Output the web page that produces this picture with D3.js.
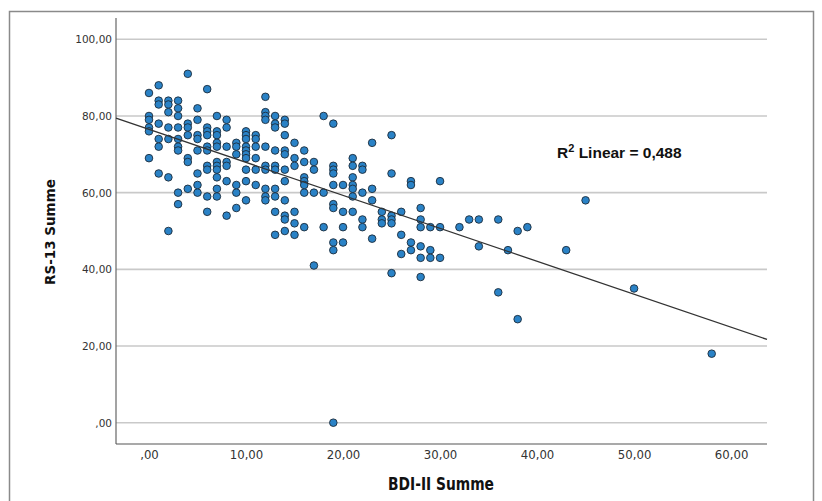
<!DOCTYPE html>
<html><head><meta charset="utf-8">
<script src="https://cdn.jsdelivr.net/npm/d3@7/dist/d3.min.js"></script>
<style>body{margin:0;background:#fff;}</style>
</head><body>
<svg id="chart" width="822" height="501"></svg>
<script>
// ---- data ----
const bdiSumme = [
  0,0,0,0,0,0,
  1,1,1,1,1,1,1,
  2,2,2,2,2,2,2,
  3,3,3,3,3,3,3,3,3,
  4,4,4,4,4,4,4,
  5,5,5,5,5,5,5,5,
  6,6,6,6,6,6,6,6,6,6,
  7,7,7,7,7,7,7,7,7,7,7,
  8,8,8,8,8,8,8,
  9,9,9,9,9,9,
  10,10,10,10,10,10,10,10,10,10,
  11,11,11,11,11,11,
  12,12,12,12,12,12,12,12,12,12,
  13,13,13,13,13,13,13,13,13,13,
  14,14,14,14,14,14,14,14,14,14,14,
  15,15,15,15,15,15,
  16,16,16,16,16,16,16,
  17,17,17,17,
  18,18,18,
  19,19,19,19,19,19,19,19,19,19,
  20,20,20,20,
  21,21,21,21,21,21,21,
  22,22,22,22,22,
  23,23,23,23,
  24,24,24,
  25,25,25,25,25,25,
  26,26,26,
  27,27,27,27,
  28,28,28,28,28,28,
  29,29,29,
  30,30,30,
  32,33,34,34,36,36,37,38,38,39,43,45,50,58
];
const rs13Summe = [
  86,80,79,77,76,69,
  88,84,83,78,74,72,65,
  84,83,81,77,74,64,50,
  84,82,80,77,74,72,71,60,57,
  91,78,77,75,69,68,61,
  82,79,75,74,71,65,62,60,
  87,77,76,75,72,71,67,66,59,55,
  80,76,75,73,72,68,67,66,64,61,59,
  79,77,72,68,67,63,54,
  73,72,70,62,60,56,
  76,75,74,72,71,70,69,66,63,58,
  75,74,72,69,66,62,
  85,81,80,79,72,67,66,61,59,58,
  80,78,77,71,67,66,61,59,55,49,
  79,78,75,71,70,66,63,58,54,53,50,
  73,69,67,55,52,49,
  71,68,64,63,62,60,51,
  68,66,60,41,
  80,60,51,
  78,67,66,65,62,57,56,47,45,0,
  62,55,51,47,
  69,67,64,62,61,59,55,
  67,66,60,53,51,
  73,61,58,48,
  55,53,52,
  75,65,54,53,52,39,
  55,49,44,
  63,62,47,45,
  56,53,51,46,43,38,
  51,45,43,
  63,51,43,
  51,53,53,46,53,34,45,50,27,51,45,58,35,18
];
const xTicks = [0, 10, 20, 30, 40, 50, 60];
const yTicks = [0, 20, 40, 60, 80, 100];
const xDomain = [-3.4, 63.7];
const yDomain = [-5.56, 105.56];
const fitIntercept = 76.5;
const fitSlope = -0.86;
const rSquared = "0,488";
const xTitle = "BDI-II Summe";
const yTitle = "RS-13 Summe";

// ---- drawing ----
const svg = d3.select("#chart");
const L = 116, R = 767, T = 18, B = 444;

const x = d3.scaleLinear().domain(xDomain).range([L, R]);
const y = d3.scaleLinear().domain(yDomain).range([B, T]);

const loc = d3.formatLocale({decimal: ",", thousands: ".", grouping: [3], currency: ["", ""]});
const f2 = loc.format(".2f");
const fmt = v => f2(v).replace(/^0,/, ",");

// outer frame
svg.append("path")
  .attr("d", "M9.5,505 V11.5 H813.5 V505")
  .attr("fill", "none").attr("stroke", "#8a8a8a").attr("stroke-width", 1.5);

// gridlines
svg.append("g").selectAll("line").data(yTicks).join("line")
  .attr("x1", L).attr("x2", R)
  .attr("y1", d => y(d)).attr("y2", d => y(d))
  .attr("stroke", "#c9c9c9").attr("stroke-width", 1.6);

// y axis
const gy = svg.append("g").attr("transform", `translate(${L},0)`)
  .call(d3.axisLeft(y).tickValues(yTicks).tickSize(0).tickPadding(4).tickFormat(fmt));
gy.select(".domain").remove();
gy.selectAll("text").attr("font-family", "DejaVu Sans, sans-serif")
  .attr("font-size", 10.5).attr("fill", "#333");

// x axis
const gx = svg.append("g").attr("transform", `translate(0,${B})`)
  .call(d3.axisBottom(x).tickValues(xTicks).tickSize(0).tickPadding(6).tickFormat(fmt));
gx.select(".domain").remove();
gx.selectAll("text").attr("font-family", "'Liberation Sans Narrow', 'DejaVu Sans Condensed', sans-serif")
  .attr("font-size", 13).attr("fill", "#333");

// axis lines
svg.append("line").attr("x1", L).attr("x2", L).attr("y1", T).attr("y2", B)
  .attr("stroke", "#666").attr("stroke-width", 1.2);
svg.append("line").attr("x1", L).attr("x2", R).attr("y1", B).attr("y2", B)
  .attr("stroke", "#555").attr("stroke-width", 1.2);

// points
svg.append("g").selectAll("circle").data(bdiSumme.map((v, i) => [v, rs13Summe[i]])).join("circle")
  .attr("cx", d => x(d[0])).attr("cy", d => y(d[1])).attr("r", 3.8)
  .attr("fill", "#2a82c6").attr("stroke", "#1c2b3a").attr("stroke-width", 0.9);

// fit line
const line = d3.line().x(d => x(d)).y(d => y(fitIntercept + fitSlope * d));
svg.append("path").datum(xDomain).attr("d", line)
  .attr("fill", "none").attr("stroke", "#333").attr("stroke-width", 1.3);

// R² label
const rt = svg.append("text").attr("x", 557).attr("y", 158)
  .attr("font-family", "'Liberation Sans', Arial, sans-serif").attr("font-weight", "bold")
  .attr("font-size", 15.5).attr("fill", "#111");
rt.append("tspan").text("R");
rt.append("tspan").attr("font-size", 11).attr("dy", -6).text("2");
rt.append("tspan").attr("dy", 6).text(" Linear = " + rSquared);

// axis titles
svg.append("text").attr("x", 441).attr("y", 490).attr("text-anchor", "middle")
  .attr("font-family", "'Liberation Sans Narrow', 'DejaVu Sans Condensed', sans-serif")
  .attr("font-weight", "bold").attr("font-size", 18).attr("fill", "#111")
  .attr("textLength", 106).attr("lengthAdjust", "spacingAndGlyphs").text(xTitle);
svg.append("text").attr("transform", "translate(55,232) rotate(-90)").attr("text-anchor", "middle")
  .attr("font-family", "'DejaVu Sans', sans-serif")
  .attr("font-weight", "bold").attr("font-size", 13.5).attr("fill", "#111").text(yTitle);
</script>
</body></html>
